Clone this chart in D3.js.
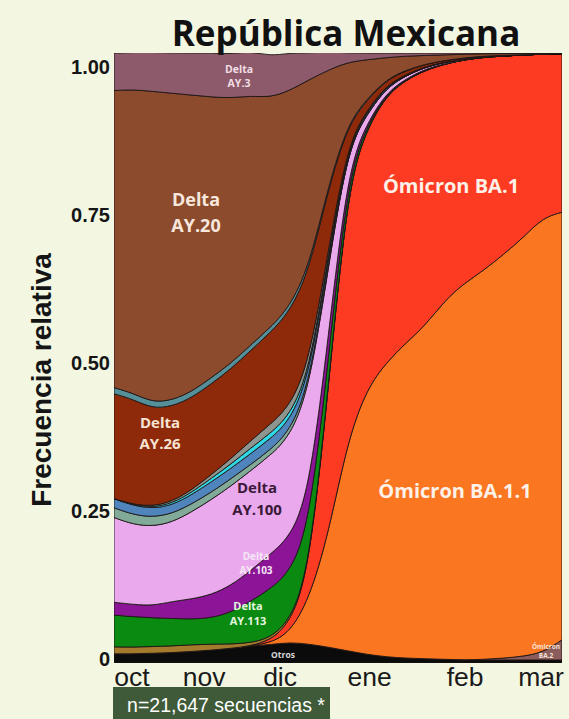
<!DOCTYPE html>
<html>
<head>
<meta charset="utf-8">
<script src="https://cdn.jsdelivr.net/npm/d3@7"></script>
<style>
  html, body { margin: 0; padding: 0; background: #f3f7e2; }
  svg { display: block; }
</style>
</head>
<body>
<svg id="chart" width="569" height="719"></svg>
<script>
// semanas desde inicio de octubre
const weeks = [0,1,2,3,4,5,6,7,8,9,10,11,12,13,14,15,16,17,18,19,20,21,22,23];

// frecuencias relativas por linaje
const otros = [0.015,0.015,0.016,0.017,0.019,0.021,0.024,0.028,0.030,0.034,0.031,0.026,0.020,0.014,0.010,0.008,0.007,0.006,0.005,0.005,0.005,0.005,0.005,0.005];
const ba2   = [0,0,0,0,0,0,0,0,0,0,0,0,0,0,0,0,0,0,0,0.001,0.003,0.006,0.012,0.033];
const ba11  = [0,0,0,0,0,0,0,0,0.003,0.015,0.072,0.184,0.346,0.437,0.483,0.517,0.547,0.589,0.618,0.638,0.662,0.686,0.713,0.701];
const ba1   = [0,0,0,0,0,0,0,0,0.004,0.015,0.041,0.238,0.418,0.426,0.438,0.431,0.418,0.387,0.366,0.349,0.325,0.300,0.268,0.260];
const dTan  = [0.0115,0.011,0.011,0.011,0.011,0.010,0.007,0.005,0.004,0.004,0.004,0.003,0.001,0.001,0.0005,0,0,0,0,0,0,0,0,0];
const ay113 = [0.052,0.050,0.047,0.045,0.042,0.043,0.052,0.068,0.080,0.080,0.072,0.044,0.013,0.004,0.002,0.001,0.001,0.0005,0,0,0,0,0,0];
const ay103 = [0.021,0.020,0.020,0.028,0.033,0.038,0.044,0.050,0.057,0.057,0.055,0.039,0.012,0.004,0.002,0.001,0.001,0.0005,0,0,0,0,0,0];
const ay100 = [0.139,0.131,0.130,0.130,0.143,0.156,0.163,0.164,0.162,0.165,0.170,0.113,0.034,0.014,0.008,0.005,0.003,0.002,0.001,0.001,0,0,0,0];
const dGrisVerde = [0.016,0.016,0.015,0.014,0.013,0.012,0.012,0.010,0.009,0.009,0.007,0.005,0.001,0.001,0.0005,0,0,0,0,0,0,0,0,0];
const dAzul = [0.015,0.015,0.014,0.014,0.015,0.017,0.017,0.018,0.018,0.017,0.015,0.010,0.003,0.003,0.002,0.001,0.001,0.0005,0,0,0,0,0,0];
const dCian = [0,0.001,0.002,0.003,0.004,0.006,0.007,0.009,0.009,0.009,0.007,0.005,0.001,0.001,0.0005,0,0,0,0,0,0,0,0,0];
const dGris = [0,0.001,0.002,0.003,0.004,0.006,0.009,0.012,0.015,0.015,0.015,0.010,0.003,0.002,0.001,0.001,0,0,0,0,0,0,0,0];
const ay26  = [0.172,0.172,0.160,0.156,0.151,0.149,0.147,0.148,0.150,0.155,0.152,0.100,0.030,0.016,0.009,0.006,0.004,0.0025,0.002,0.001,0.001,0,0,0];
const dTeal = [0.010,0.010,0.010,0.010,0.010,0.010,0.009,0.009,0.008,0.008,0.007,0.005,0.003,0.002,0.001,0.001,0,0,0,0,0,0,0,0];
const ay20  = [0.487,0.498,0.510,0.503,0.486,0.460,0.435,0.409,0.378,0.355,0.308,0.190,0.100,0.064,0.035,0.023,0.014,0.009,0.006,0.004,0.003,0.002,0.001,0.001];
const ay3   = [0.061,0.061,0.064,0.066,0.069,0.072,0.072,0.073,0.068,0.062,0.044,0.030,0.015,0.011,0.007,0.005,0.004,0.003,0.002,0.001,0.001,0.001,0.001,0];

// meses del eje x (posición en semanas)
const monthTicks = [0.9, 4.6, 8.5, 13.1, 18.0, 21.9];
const monthLabels = ["oct", "nov", "dic", "ene", "feb", "mar"];
const yTicks = [0, 0.25, 0.5, 0.75, 1];
const yTickLabels = ["0", "0.25", "0.50", "0.75", "1.00"];

// orden de apilado, de abajo hacia arriba
const keys = ["otros","ba2","ba11","ba1","dTan","ay113","ay103","ay100","dGrisVerde","dAzul","dCian","dGris","ay26","dTeal","ay20","ay3"];
const series = { otros, ba2, ba11, ba1, dTan, ay113, ay103, ay100, dGrisVerde, dAzul, dCian, dGris, ay26, dTeal, ay20, ay3 };
const colors = {
  otros: "#0b0b0b", ba2: "#8a5d5c", ba11: "#fb7620", ba1: "#fc3b22", dTan: "#a47a2c",
  ay113: "#0b8a12", ay103: "#8c1597", ay100: "#e9a9ec", dGrisVerde: "#82aa98",
  dAzul: "#4f85bc", dCian: "#2fd8e5", dGris: "#8e958f", ay26: "#8e2a0a",
  dTeal: "#55909a", ay20: "#8c4b2d", ay3: "#8c5a6a"
};

const table = weeks.map((w, i) => {
  const row = { week: w };
  keys.forEach(k => row[k] = series[k][i]);
  return row;
});

const svg = d3.select("#chart");
const plot = { left: 114, right: 562, top: 53, bottom: 663 };

const x = d3.scaleLinear().domain([0, 23]).range([plot.left, plot.right]);
const y = d3.scaleLinear().domain([0, 1]).range([plot.bottom, plot.top]);
// las etiquetas del eje y están algo desplazadas en la figura original
const yLab = d3.scaleLinear().domain([0, 1]).range([659, 67]);

const stacked = d3.stack().keys(keys)(table);

const area = d3.area()
  .x(d => x(d.data.week))
  .y0(d => y(d[0]))
  .y1(d => y(d[1]))
  .curve(d3.curveBasis);

svg.append("clipPath").attr("id", "plot-clip")
  .append("rect")
  .attr("x", plot.left).attr("y", plot.top)
  .attr("width", plot.right - plot.left).attr("height", plot.bottom - plot.top);

svg.append("g")
  .attr("clip-path", "url(#plot-clip)")
  .selectAll("path")
  .data(stacked)
  .join("path")
  .attr("d", area)
  .attr("fill", d => colors[d.key])
  .attr("stroke", "#1c1414")
  .attr("stroke-width", 0.9)
  .attr("stroke-linejoin", "round");

// Título
svg.append("text")
  .attr("x", 346).attr("y", 46)
  .attr("text-anchor", "middle")
  .style("font-family", "'Open Sans', sans-serif")
  .style("font-weight", "bold")
  .style("font-size", "35px")
  .style("fill", "#111")
  .text("República Mexicana");

// Eje y
const yAxis = d3.axisLeft(yLab)
  .tickValues(yTicks)
  .tickFormat((d, i) => yTickLabels[i])
  .tickSize(0)
  .tickPadding(3);

svg.append("g")
  .attr("transform", `translate(${plot.left - 1},0)`)
  .call(yAxis)
  .call(g => g.select(".domain").remove())
  .selectAll("text")
  .style("font-family", "'Liberation Sans', Arial, sans-serif")
  .style("font-weight", "bold")
  .style("font-size", "20px")
  .style("fill", "#151515");

svg.append("text")
  .attr("transform", "translate(51,380) rotate(-90)")
  .attr("text-anchor", "middle")
  .style("font-family", "'Liberation Sans', Arial, sans-serif")
  .style("font-weight", "bold")
  .style("font-size", "28px")
  .style("fill", "#151515")
  .text("Frecuencia relativa");

// Eje x
const xAxis = d3.axisBottom(x)
  .tickValues(monthTicks)
  .tickFormat((d, i) => monthLabels[i])
  .tickSize(0)
  .tickPadding(4);

svg.append("g")
  .attr("transform", `translate(0,${plot.bottom})`)
  .call(xAxis)
  .call(g => g.select(".domain").remove())
  .selectAll("text")
  .style("font-family", "'Liberation Sans', Arial, sans-serif")
  .style("font-size", "26.5px")
  .style("fill", "#1a1a1a");

// Etiquetas de linajes
const labels = [
  { lines: ["Delta", "AY.3"], x: 239, y: 73, size: 10.5, gap: 14, color: "#f1dde4" },
  { lines: ["Delta", "AY.20"], x: 196, y: 206, size: 18, gap: 26, color: "#f7e7dc" },
  { lines: ["Delta", "AY.26"], x: 160, y: 428, size: 15, gap: 21, color: "#f7e3d2" },
  { lines: ["Delta", "AY.100"], x: 257, y: 493, size: 15, gap: 22, color: "#3a1838" },
  { lines: ["Delta", "AY.103"], x: 256, y: 560, size: 10, gap: 14, color: "#f6e6f6" },
  { lines: ["Delta", "AY.113"], x: 248, y: 610, size: 11, gap: 15, color: "#e4f6df" },
  { lines: ["Otros"], x: 283, y: 658, size: 8.5, gap: 0, color: "#d8d8d8" },
  { lines: ["Ómicron BA.1"], x: 451, y: 193, size: 20, gap: 0, color: "#fdf1e8" },
  { lines: ["Ómicron BA.1.1"], x: 455, y: 498, size: 20, gap: 0, color: "#fdf1e8" },
  { lines: ["Ómicron", "BA.2"], x: 546, y: 649, size: 6.5, gap: 9, color: "#f6e2d6" }
];

labels.forEach(l => {
  const t = svg.append("text")
    .attr("text-anchor", "middle")
    .style("font-family", "'Open Sans', sans-serif")
    .style("font-weight", "bold")
    .style("font-size", l.size + "px")
    .style("fill", l.color);
  l.lines.forEach((s, i) => {
    t.append("tspan").attr("x", l.x).attr("y", l.y + i * l.gap).text(s);
  });
});

// Nota de secuencias
svg.append("rect")
  .attr("x", 113).attr("y", 687)
  .attr("width", 217).attr("height", 32)
  .attr("fill", "#3e5a38");

svg.append("text")
  .attr("x", 226).attr("y", 712)
  .attr("text-anchor", "middle")
  .style("font-family", "'Liberation Sans', Arial, sans-serif")
  .style("font-size", "19.5px")
  .style("fill", "#ffffff")
  .text("n=21,647 secuencias *");
</script>
</body>
</html>
